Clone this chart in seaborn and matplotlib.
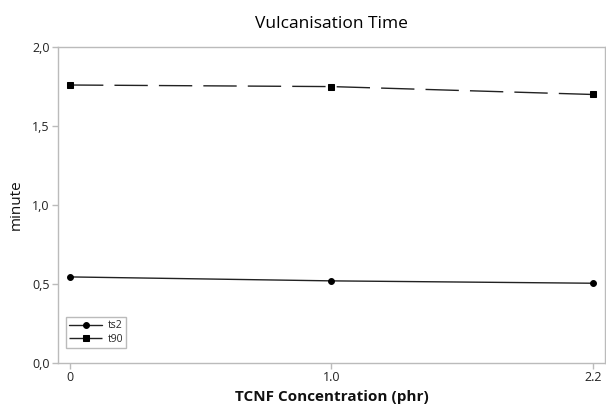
import matplotlib
matplotlib.use("Agg")
import matplotlib.pyplot as plt
import seaborn as sns
import pandas as pd
import numpy as np

# data
concentrations = ["0", "1.0", "2.2"]
ts2 = [0.545, 0.52, 0.505]
t90 = [1.76, 1.75, 1.70]

sns.set_theme(style="white")
plt.rcParams['font.family'] = ['Open Sans', 'DejaVu Sans']

pos = np.arange(len(concentrations))
df = pd.DataFrame({"pos": pos, "ts2": ts2, "t90": t90})

fig = plt.figure(figsize=(6.06, 4.05), dpi=100)
ax = fig.add_axes([0.0957, 0.1037, 0.9026, 0.780])

sns.lineplot(data=df, x="pos", y="ts2", ax=ax, color="#222222", linewidth=1.0,
             marker="o", markersize=4.2, markerfacecolor="black",
             markeredgecolor="black", label="ts2")
sns.lineplot(data=df, x="pos", y="t90", ax=ax, color="#222222", linewidth=1.0,
             marker="s", markersize=4.0, markerfacecolor="black",
             markeredgecolor="black", label="t90")
ax.lines[1].set_dashes((24, 8))

ax.set_xlim(-0.046, 2.046)
ax.set_ylim(0, 2.0)
ax.set_xticks(pos)
ax.set_xticklabels(concentrations)
yt = [0, 0.5, 1.0, 1.5, 2.0]
ax.set_yticks(yt)
ax.set_yticklabels([f"{v:.1f}".replace(".", ",") for v in yt])

for s in ax.spines.values():
    s.set_color("#bbbbbb")
    s.set_linewidth(1.0)
ax.tick_params(axis="both", direction="out", length=4, width=1, color="#bbbbbb",
               labelsize=9, labelcolor="#222222", pad=2, bottom=True, left=True)

ax.set_xlabel("TCNF Concentration (phr)", fontsize=11, fontweight="bold",
              color="#111111", labelpad=4)
ax.set_ylabel("minute", fontsize=11, fontweight="medium", color="#111111", labelpad=6)
ax.set_title("Vulcanisation Time", fontsize=12.5, fontweight="medium",
             color="#000000", pad=14)

leg = ax.legend(loc="lower left", bbox_to_anchor=(0.005, 0.032), fontsize=7.5,
                frameon=True, fancybox=False, handlelength=3.2,
                borderpad=0.3, labelspacing=0.2, handletextpad=0.5)
leg.get_frame().set_edgecolor("#aaaaaa")
leg.get_frame().set_linewidth(1.0)

fig.savefig("out.png", dpi=100)
